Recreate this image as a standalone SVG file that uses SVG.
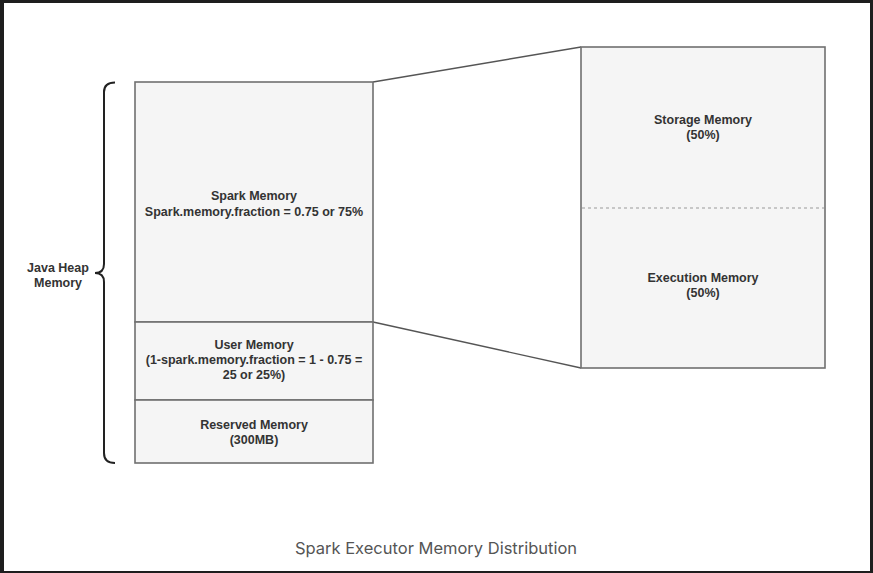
<svg xmlns="http://www.w3.org/2000/svg" width="873" height="573" viewBox="0 0 873 573">
<style>
.box{fill:#f5f5f5;stroke:#707070;stroke-width:1.6}
.lbl{font-family:"Liberation Sans",Arial,sans-serif;font-size:12.5px;font-weight:bold;fill:#333;text-anchor:middle}
.conn{fill:none;stroke:#555;stroke-width:1.4}
</style>
<rect x="0" y="0" width="873" height="573" fill="#1e1e1e"/>
<rect x="4" y="3" width="866" height="568" fill="#ffffff"/>
<g id="connectors">
<line class="conn" x1="373" y1="82" x2="581" y2="47"/>
<line class="conn" x1="373" y1="322" x2="581" y2="368"/>
</g>
<g id="brace">
<path d="M115,82.5 Q104,82.5 104,92 L104,264 Q104,273 95,273 Q104,273 104,282 L104,453 Q104,463 115,463" fill="none" stroke="#222" stroke-width="2"/>
<text class="lbl" x="58" y="272">Java Heap</text>
<text class="lbl" x="58" y="287">Memory</text>
</g>
<g id="spark-memory">
<rect class="box" x="135" y="82" width="238" height="240"/>
<text class="lbl" x="254" y="200">Spark Memory</text>
<text class="lbl" x="254" y="216">Spark.memory.fraction = 0.75 or 75%</text>
</g>
<g id="user-memory">
<rect class="box" x="135" y="322" width="238" height="78"/>
<text class="lbl" x="254" y="349">User Memory</text>
<text class="lbl" x="254" y="364">(1-spark.memory.fraction = 1 - 0.75 =</text>
<text class="lbl" x="254" y="379">25 or 25%)</text>
</g>
<g id="reserved-memory">
<rect class="box" x="135" y="400" width="238" height="63"/>
<text class="lbl" x="254" y="429">Reserved Memory</text>
<text class="lbl" x="254" y="444">(300MB)</text>
</g>
<g id="spark-detail">
<rect class="box" x="581" y="47" width="244" height="321"/>
<line x1="582" y1="208" x2="824" y2="208" stroke="#999" stroke-width="1.2" stroke-dasharray="3 3"/>
</g>
<g id="storage-memory">
<text class="lbl" x="703" y="124">Storage Memory</text>
<text class="lbl" x="703" y="139">(50%)</text>
</g>
<g id="execution-memory">
<text class="lbl" x="703" y="282">Execution Memory</text>
<text class="lbl" x="703" y="297">(50%)</text>
</g>
<text x="436" y="554" font-family="Inter,'Noto Sans',sans-serif" font-size="16.5" fill="#555" text-anchor="middle">Spark Executor Memory Distribution</text>
</svg>
